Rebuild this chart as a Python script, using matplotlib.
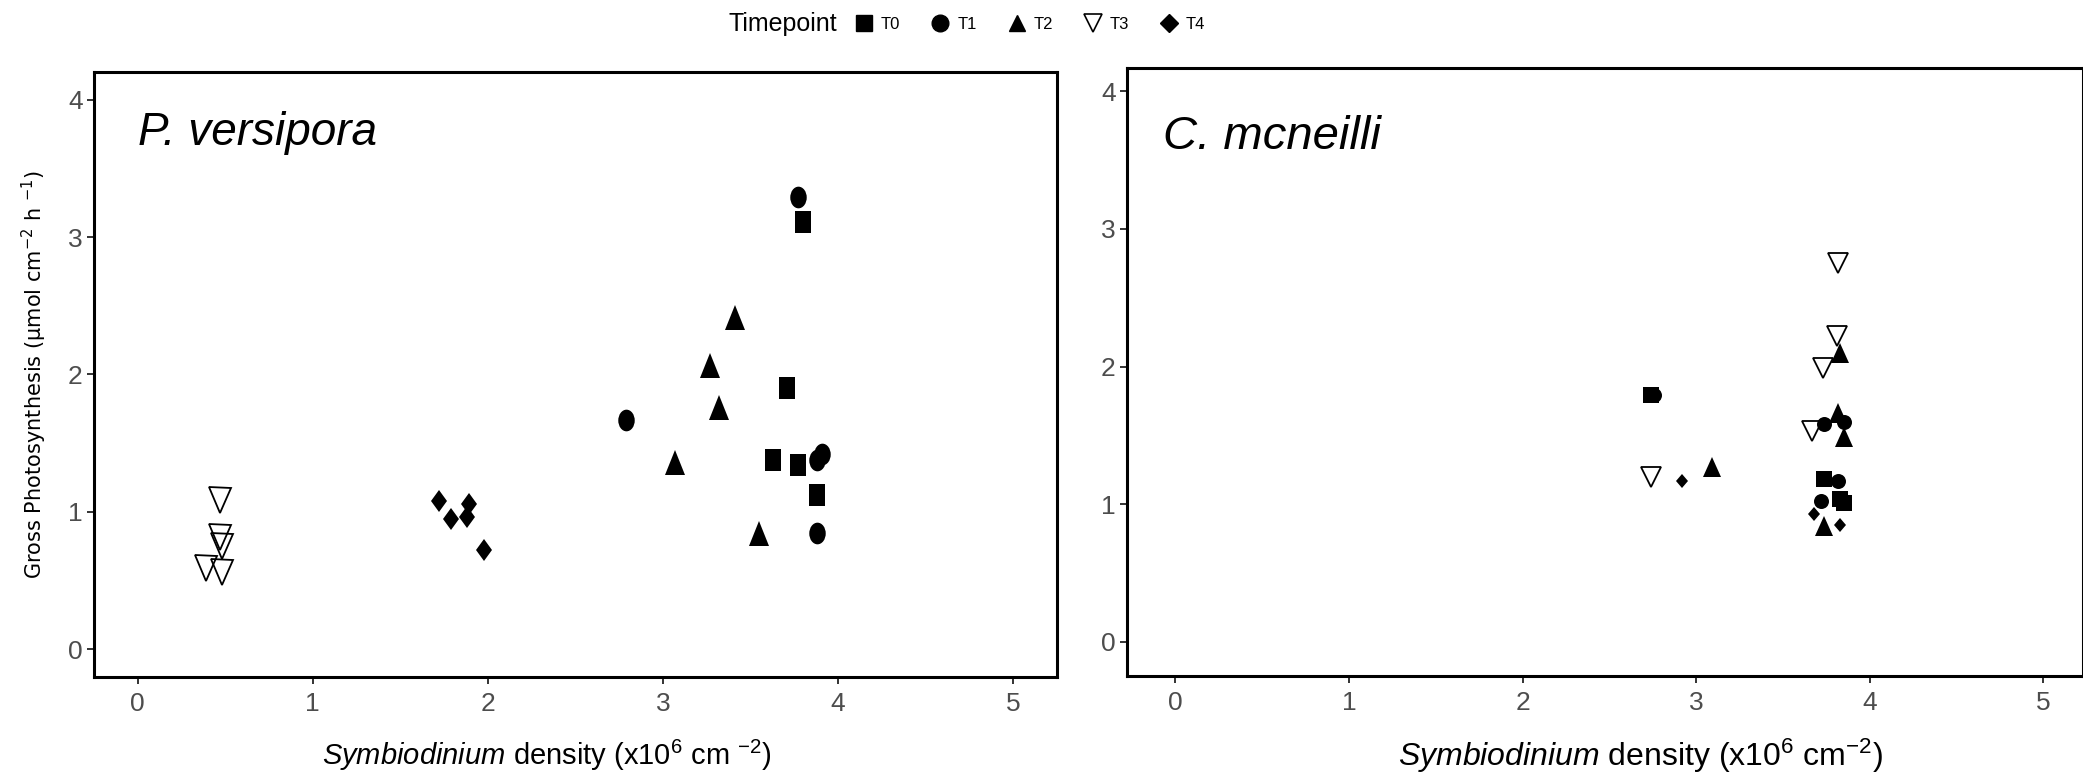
"""
Gross photosynthesis vs Symbiodinium density for two coral species,
one panel per species, marker shape per timepoint.
"""

import matplotlib
matplotlib.use('Agg')
import matplotlib.pyplot as plt
from matplotlib.markers import MarkerStyle
from matplotlib.transforms import Affine2D
from matplotlib.lines import Line2D
from matplotlib import font_manager

# ─────────────────────────────────────────────
# DATA  (x = density x10^6 cm-2, y = umol cm-2 h-1)
# ─────────────────────────────────────────────
timepoints = ['T0', 'T1', 'T2', 'T3', 'T4']

# P. versipora
pv_t0_x = [3.80, 3.71, 3.63, 3.77, 3.88]
pv_t0_y = [3.11, 1.90, 1.38, 1.34, 1.12]
pv_t1_x = [3.77, 2.79, 3.88, 3.91, 3.88]
pv_t1_y = [3.29, 1.67, 1.38, 1.42, 0.85]
pv_t2_x = [3.41, 3.27, 3.32, 3.07, 3.55]
pv_t2_y = [2.42, 2.07, 1.76, 1.36, 0.85]
pv_t3_x = [0.47, 0.47, 0.48, 0.39, 0.48]
pv_t3_y = [1.09, 0.82, 0.75, 0.59, 0.56]
pv_t4_x = [1.72, 1.79, 1.89, 1.88, 1.98]
pv_t4_y = [1.08, 0.95, 1.06, 0.96, 0.72]

# C. mcneilli
cm_t0_x = [2.74, 3.74, 3.83, 3.85]
cm_t0_y = [1.79, 1.18, 1.04, 1.01]
cm_t1_x = [2.76, 3.74, 3.85, 3.82, 3.72]
cm_t1_y = [1.79, 1.58, 1.60, 1.17, 1.02]
cm_t2_x = [3.83, 3.82, 3.85, 3.09, 3.74]
cm_t2_y = [2.10, 1.66, 1.49, 1.27, 0.84]
cm_t3_x = [3.82, 3.81, 3.73, 3.67, 2.74]
cm_t3_y = [2.75, 2.22, 1.99, 1.53, 1.20]
cm_t4_x = [2.92, 3.68, 3.83]
cm_t4_y = [1.17, 0.93, 0.85]

x_ticks = [0, 1, 2, 3, 4, 5]
y_ticks = [0, 1, 2, 3, 4]

# ─────────────────────────────────────────────
# FONTS
# ─────────────────────────────────────────────
available = {f.name for f in font_manager.fontManager.ttflist}
NARROW = 'Liberation Sans Narrow' if 'Liberation Sans Narrow' in available else 'Liberation Sans'
plt.rcParams['mathtext.fontset'] = 'custom'
plt.rcParams['mathtext.rm'] = NARROW
plt.rcParams['mathtext.it'] = NARROW + ':italic'
plt.rcParams['mathtext.default'] = 'regular'

TICK_GREY = '#4d4d4d'

# marker base shapes (ggplot-like 15, 16, 17, 6, 18)
base_markers = {'T0': 's', 'T1': 'o', 'T2': '^', 'T3': 'v', 'T4': 'D'}


def make_marker(tp, xscale):
    return MarkerStyle(base_markers[tp], transform=Affine2D().scale(xscale, 1.0))


def draw_panel(ax, series, sizes, xlim, ylim, title, title_xy, title_size):
    for tp, (xs, ys) in zip(timepoints, series):
        ms, sx = sizes[tp]
        if tp == 'T3':
            ax.plot(xs, ys, linestyle='none', marker=make_marker(tp, sx),
                    markersize=ms, markerfacecolor='none',
                    markeredgecolor='black', markeredgewidth=1.3)
        else:
            ax.plot(xs, ys, linestyle='none', marker=make_marker(tp, sx),
                    markersize=ms, color='black', markeredgewidth=0)

    ax.set_xlim(*xlim)
    ax.set_ylim(*ylim)
    ax.set_xticks(x_ticks)
    ax.set_yticks(y_ticks)
    ax.tick_params(axis='both', length=5, width=1.4, color='#333333')
    ax.tick_params(axis='x', labelsize=19, labelcolor=TICK_GREY, pad=6)
    ax.tick_params(axis='y', labelsize=19, labelcolor=TICK_GREY, pad=3)
    for lab in ax.get_xticklabels():
        lab.set_fontfamily(NARROW)
    for lab in ax.get_yticklabels():
        lab.set_fontfamily('Liberation Sans')
    for sp in ax.spines.values():
        sp.set_linewidth(2.2)
        sp.set_color('black')

    ax.text(title_xy[0], title_xy[1], title, fontsize=title_size,
            fontstyle='italic', family=NARROW, ha='left', va='baseline')


fig = plt.figure(figsize=(20.83, 7.82), dpi=100)

ax1 = fig.add_axes([0.0451, 0.1343, 0.4623, 0.7736])
ax2 = fig.add_axes([0.5410, 0.1355, 0.4590, 0.7775])

# marker size (pt) and horizontal squeeze per timepoint
sizes_left = {'T0': (15.8, 0.73), 'T1': (15.6, 0.76), 'T2': (18.0, 0.83),
              'T3': (18.0, 0.90), 'T4': (11.0, 0.71)}
sizes_right = {'T0': (11.5, 0.94), 'T1': (10.8, 1.0), 'T2': (13.7, 0.95),
               'T3': (14.4, 1.0), 'T4': (7.6, 0.87)}

draw_panel(ax1,
           [(pv_t0_x, pv_t0_y), (pv_t1_x, pv_t1_y), (pv_t2_x, pv_t2_y),
            (pv_t3_x, pv_t3_y), (pv_t4_x, pv_t4_y)],
           sizes_left, (-0.25, 5.25), (-0.2, 4.2),
           'P. versipora', (0.0, 3.67), 33)

draw_panel(ax2,
           [(cm_t0_x, cm_t0_y), (cm_t1_x, cm_t1_y), (cm_t2_x, cm_t2_y),
            (cm_t3_x, cm_t3_y), (cm_t4_x, cm_t4_y)],
           sizes_right, (-0.28, 5.23), (-0.25, 4.17),
           'C. mcneilli', (-0.07, 3.58), 34)

# axis titles
ax1.set_ylabel('Gross Photosynthesis (µmol cm$^{-2}$ h $^{-1}$)',
               fontsize=15, family='DejaVu Sans')
ax1.yaxis.set_label_coords(-0.047, 0.5)

ax1.set_xlabel(r'$\it{Symbiodinium}$ density (x10$^{6}$ cm $^{-2}$)',
               fontsize=21, family=NARROW)
ax1.xaxis.set_label_coords(0.470, -0.10)
ax2.set_xlabel(r'$\it{Symbiodinium}$ density (x10$^{6}$ cm$^{-2}$)',
               fontsize=23, family=NARROW)
ax2.xaxis.set_label_coords(0.537, -0.10)

# legend across the top
fig.text(0.3495, 0.969, 'Timepoint', fontsize=18, family=NARROW,
         ha='left', va='center')
handles = []
for tp in timepoints:
    if tp == 'T3':
        handles.append(Line2D([], [], linestyle='none', marker=base_markers[tp],
                              markersize=13, markerfacecolor='none',
                              markeredgecolor='black', markeredgewidth=1.2))
    else:
        handles.append(Line2D([], [], linestyle='none', marker=base_markers[tp],
                              markersize=12 if tp != 'T4' else 9,
                              color='black'))
fig.legend(handles, timepoints, ncol=5, loc='center left',
           bbox_to_anchor=(0.411, 0.969), frameon=False,
           prop={'family': NARROW, 'size': 12}, handlelength=1.0,
           handletextpad=0.5, columnspacing=1.9, borderpad=0, borderaxespad=0)

plt.savefig('out.png', dpi=100)
